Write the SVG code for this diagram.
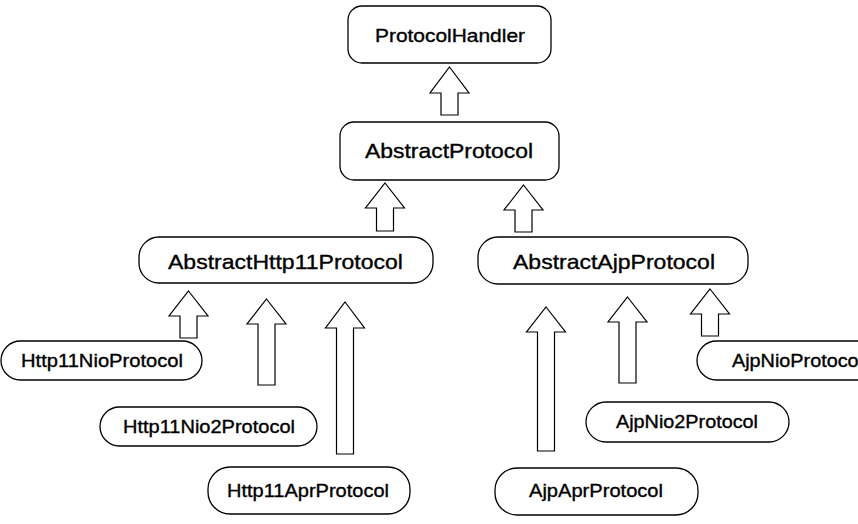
<svg xmlns="http://www.w3.org/2000/svg" width="858" height="524" viewBox="0 0 858 524">
  <style>
    .box { fill: #ffffff; stroke: #000000; stroke-width: 1.3; }
    .arrow { fill: #ffffff; stroke: #000000; stroke-width: 1.2; stroke-linejoin: miter; }
    .lbl { font-family: "Liberation Sans", Arial, Helvetica, sans-serif; fill: #000000; stroke: #000000; stroke-width: 0.35; text-anchor: middle; }
    .big { font-size: 21px; }
    .mid { font-size: 18.5px; }
    .small { font-size: 18px; }
  </style>
  <rect width="858" height="524" fill="#ffffff"/>

  <g id="connectors">
    <!-- AbstractProtocol -> ProtocolHandler -->
    <polygon class="arrow" points="449.5,67 469,93 458,93 458,115 441,115 441,93 430,93"/>
    <!-- AbstractHttp11Protocol -> AbstractProtocol -->
    <polygon class="arrow" points="385,183 404.5,208 393.5,208 393.5,231 376.5,231 376.5,208 365.5,208"/>
    <!-- AbstractAjpProtocol -> AbstractProtocol -->
    <polygon class="arrow" points="523.5,185 543,210 532,210 532,232 515,232 515,210 504,210"/>
    <!-- Http11NioProtocol -> AbstractHttp11Protocol -->
    <polygon class="arrow" points="188.5,291 208,316 197,316 197,338 180,338 180,316 169,316"/>
    <!-- Http11Nio2Protocol -> AbstractHttp11Protocol -->
    <polygon class="arrow" points="266.5,299 286,324 275,324 275,385 258,385 258,324 247,324"/>
    <!-- Http11AprProtocol -> AbstractHttp11Protocol -->
    <polygon class="arrow" points="345,302 364.5,328 353.5,328 353.5,454 336.5,454 336.5,328 325.5,328"/>
    <!-- AjpAprProtocol -> AbstractAjpProtocol -->
    <polygon class="arrow" points="546,307 565.5,332 554.5,332 554.5,451 537.5,451 537.5,332 526.5,332"/>
    <!-- AjpNio2Protocol -> AbstractAjpProtocol -->
    <polygon class="arrow" points="627.5,297 647,322 636,322 636,383 619,383 619,322 608,322"/>
    <!-- AjpNioProtocol -> AbstractAjpProtocol -->
    <polygon class="arrow" points="710,289 729.5,314 718.5,314 718.5,336 701.5,336 701.5,314 690.5,314"/>
  </g>

  <g id="ProtocolHandler">
    <rect class="box" x="348" y="6" width="203" height="57" rx="14" ry="14"/>
    <text class="lbl mid" x="450" y="42" textLength="150" lengthAdjust="spacingAndGlyphs">ProtocolHandler</text>
  </g>

  <g id="AbstractProtocol">
    <rect class="box" x="340" y="122" width="219" height="58" rx="14" ry="14"/>
    <text class="lbl big" x="449" y="158" textLength="168" lengthAdjust="spacingAndGlyphs">AbstractProtocol</text>
  </g>

  <g id="AbstractHttp11Protocol">
    <rect class="box" x="139" y="237" width="294" height="46" rx="20" ry="20"/>
    <text class="lbl big" x="285.5" y="268.5" textLength="235" lengthAdjust="spacingAndGlyphs">AbstractHttp11Protocol</text>
  </g>

  <g id="AbstractAjpProtocol">
    <rect class="box" x="478" y="237" width="270" height="47" rx="20" ry="20"/>
    <text class="lbl big" x="614" y="268.5" textLength="202" lengthAdjust="spacingAndGlyphs">AbstractAjpProtocol</text>
  </g>

  <g id="Http11NioProtocol">
    <rect class="box" x="1" y="341" width="201" height="39" rx="19.5" ry="19.5"/>
    <text class="lbl small" x="102" y="367" textLength="162" lengthAdjust="spacingAndGlyphs">Http11NioProtocol</text>
  </g>

  <g id="Http11Nio2Protocol">
    <rect class="box" x="100" y="407" width="217" height="39" rx="19.5" ry="19.5"/>
    <text class="lbl small" x="209" y="433" textLength="172" lengthAdjust="spacingAndGlyphs">Http11Nio2Protocol</text>
  </g>

  <g id="Http11AprProtocol">
    <rect class="box" x="208" y="467" width="202" height="47" rx="22" ry="22"/>
    <text class="lbl small" x="308" y="497" textLength="162" lengthAdjust="spacingAndGlyphs">Http11AprProtocol</text>
  </g>

  <g id="AjpNioProtocol">
    <rect class="box" x="697" y="341" width="202" height="39" rx="19.5" ry="19.5"/>
    <text class="lbl small" x="797.5" y="366.5" textLength="131" lengthAdjust="spacingAndGlyphs">AjpNioProtocol</text>
  </g>

  <g id="AjpNio2Protocol">
    <rect class="box" x="586" y="402" width="203" height="40" rx="20" ry="20"/>
    <text class="lbl small" x="687" y="428" textLength="142" lengthAdjust="spacingAndGlyphs">AjpNio2Protocol</text>
  </g>

  <g id="AjpAprProtocol">
    <rect class="box" x="495" y="468" width="203" height="47" rx="22" ry="22"/>
    <text class="lbl small" x="596" y="497" textLength="134" lengthAdjust="spacingAndGlyphs">AjpAprProtocol</text>
  </g>
</svg>
